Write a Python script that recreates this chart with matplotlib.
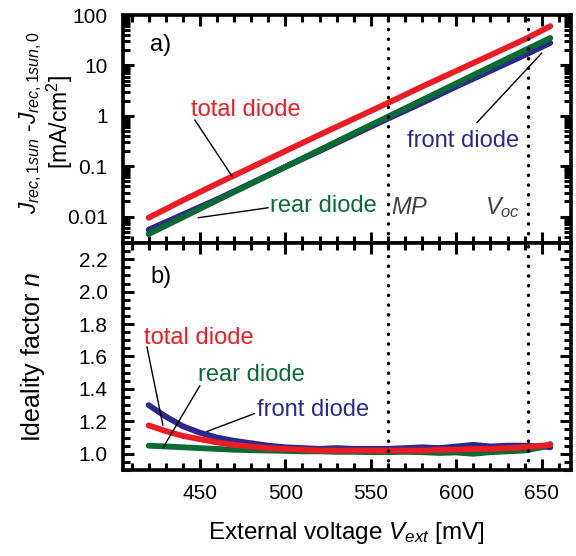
import numpy as np
import matplotlib
matplotlib.use("Agg")
import matplotlib.pyplot as plt
from matplotlib.ticker import MultipleLocator, LogLocator, NullFormatter, FixedLocator

plt.rcParams['font.family'] = ['Liberation Sans', 'DejaVu Sans']
plt.rcParams['mathtext.fontset'] = 'custom'
plt.rcParams['mathtext.rm'] = 'Liberation Sans'
plt.rcParams['mathtext.it'] = 'Liberation Sans:italic'

# a) recombination current vs voltage
v_top = [420, 440, 460, 480, 500, 520, 540, 560, 580, 600, 620, 640, 655]
j_total = [0.0095, 0.021, 0.045, 0.095, 0.20, 0.42, 0.87, 1.8, 3.8, 7.8, 16, 33, 60]
j_front = [0.0055, 0.011, 0.022, 0.046, 0.097, 0.20, 0.42, 0.88, 1.8, 3.8, 7.8, 16, 28]
j_rear = [0.0045, 0.0097, 0.021, 0.045, 0.097, 0.21, 0.45, 0.96, 2.05, 4.4, 9.4, 20, 35]

# b) ideality factor
v_n = [420, 430, 440, 450, 460, 470, 480, 490, 500, 510, 520, 530, 540, 550,
       560, 570, 580, 590, 600, 610, 620, 630, 640, 650, 655]
n_front = [1.30, 1.23, 1.17, 1.13, 1.10, 1.08, 1.065, 1.05, 1.04, 1.035, 1.03, 1.035, 1.03, 1.03,
           1.03, 1.035, 1.04, 1.035, 1.045, 1.055, 1.045, 1.05, 1.05, 1.045, 1.04]
n_total = [1.175, 1.14, 1.11, 1.09, 1.07, 1.055, 1.045, 1.035, 1.03, 1.025, 1.02, 1.02, 1.02, 1.02,
           1.02, 1.02, 1.02, 1.025, 1.025, 1.03, 1.03, 1.035, 1.04, 1.05, 1.055]
n_rear = [1.05, 1.045, 1.04, 1.035, 1.03, 1.025, 1.022, 1.02, 1.018, 1.015, 1.015, 1.012, 1.012, 1.01,
          1.01, 1.012, 1.01, 1.005, 1.008, 1.0, 1.01, 1.015, 1.02, 1.04, 1.06]

v_mp = 560
v_oc = 642

red = '#ec1c24'
blue = '#2b2a8c'
green = '#0b6b33'
gray = '#404040'

fig = plt.figure(figsize=(5.76, 5.56), dpi=100)
ax1 = fig.add_axes([0.2135, 0.563, 0.7775, 0.41])
ax2 = fig.add_axes([0.2135, 0.1547, 0.7775, 0.4083])

lw = 4.2
ax1.plot(v_top, j_front, color=blue, lw=lw, solid_capstyle='round')
ax1.plot(v_top, j_rear, color=green, lw=lw, solid_capstyle='round')
ax1.plot(v_top, j_total, color=red, lw=lw, solid_capstyle='round')
ax1.set_yscale('log')
ax1.set_ylim(0.003, 100)

ax2.plot(v_n, n_front, color=blue, lw=lw, solid_capstyle='round')
ax2.plot(v_n, n_rear, color=green, lw=lw, solid_capstyle='round')
ax2.plot(v_n, n_total, color=red, lw=lw, solid_capstyle='round')
ax2.set_ylim(0.9, 2.3)

for ax in (ax1, ax2):
    ax.set_xlim(405, 667)
    ax.xaxis.set_major_locator(MultipleLocator(50))
    ax.xaxis.set_minor_locator(MultipleLocator(10))
    ax.axvline(v_mp, color='black', ls=(0, (0.05, 2.75)), lw=2.5, dash_capstyle='round')
    ax.axvline(v_oc, color='black', ls=(0, (0.05, 2.75)), lw=2.5, dash_capstyle='round')
    ax.tick_params(which='both', direction='in', top=True, right=True, width=2.2, labelsize=15)
    ax.tick_params(which='major', length=8)
    ax.tick_params(which='minor', length=5)
    ax.tick_params(axis='y', pad=11)
    for s in ax.spines.values():
        s.set_linewidth(2.6)

ax1.yaxis.set_major_locator(FixedLocator([0.01, 0.1, 1, 10, 100]))
ax1.yaxis.set_minor_locator(LogLocator(base=10, subs=np.arange(2, 10)))
ax1.yaxis.set_minor_formatter(NullFormatter())
ax1.set_yticklabels(['0.01', '0.1', '1', '10', '100'])
ax1.tick_params(labelbottom=False)

ax2.yaxis.set_major_locator(FixedLocator([1.0, 1.2, 1.4, 1.6, 1.8, 2.0, 2.2]))
ax2.yaxis.set_minor_locator(MultipleLocator(0.05))
ax2.set_yticklabels(['1.0', '1.2', '1.4', '1.6', '1.8', '2.0', '2.2'])
ax2.tick_params(axis='x', pad=10)

ax1.set_ylabel('$J_{rec,1sun}$ -$J_{rec,1sun,0}$\n[mA/cm$^2$]', fontsize=16.5, linespacing=1.0)
ax1.yaxis.set_label_coords(-0.108, 0.53)
ax2.set_ylabel('Ideality factor $n$', fontsize=18)
ax2.yaxis.set_label_coords(-0.17, 0.5)
ax2.set_xlabel('External voltage $V_{ext}$ [mV]', fontsize=17.5, labelpad=12)

fs = 17
line_kw = dict(arrowstyle='-', color='black', lw=1.0, shrinkA=0, shrinkB=0)

# panel a annotations
ax1.text(421, 25, 'a)', fontsize=fs, va='center')
ax1.text(477, 1.31, 'total diode', color=red, fontsize=fs, ha='center', va='center')
ax1.annotate('', xy=(469, 0.062), xytext=(447, 0.83), arrowprops=line_kw)
ax1.text(491, 0.016, 'rear diode', color=green, fontsize=fs, ha='left', va='center')
ax1.annotate('', xy=(449, 0.0095), xytext=(490, 0.015), arrowprops=line_kw)
ax1.text(604, 0.31, 'front diode', color=blue, fontsize=fs, ha='center', va='center')
ax1.annotate('', xy=(650, 17.6), xytext=(612, 0.73), arrowprops=line_kw)
ax1.text(562, 0.015, '$MP$', color=gray, fontsize=fs, ha='left', va='center')
ax1.text(617, 0.015, '$V_{oc}$', color=gray, fontsize=fs, ha='left', va='center')

# panel b annotations
ax2.text(421, 2.09, 'b)', fontsize=fs, va='center')
ax2.text(449.4, 1.715, 'total diode', color=red, fontsize=fs, ha='center', va='center')
ax2.annotate('', xy=(428.4, 1.174), xytext=(419, 1.66), arrowprops=line_kw)
ax2.text(480.4, 1.485, 'rear diode', color=green, fontsize=fs, ha='center', va='center')
ax2.annotate('', xy=(428.4, 1.037), xytext=(450, 1.42), arrowprops=line_kw)
ax2.text(516, 1.267, 'front diode', color=blue, fontsize=fs, ha='center', va='center')
ax2.annotate('', xy=(454, 1.137), xytext=(482, 1.248), arrowprops=line_kw)

fig.savefig('out.png', dpi=100)
